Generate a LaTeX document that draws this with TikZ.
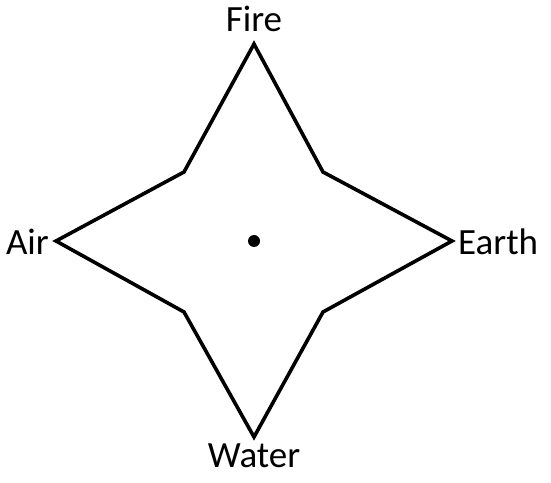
\documentclass[tikz,border=0pt]{standalone}
\usepackage{fontspec}
\setmainfont{Carlito}
\usepackage{tikz}
\usetikzlibrary{positioning}

\begin{document}
\begin{tikzpicture}[x=1pt,y=1pt,
    element/.style={font=\fontsize{37}{40}\selectfont,inner sep=0pt},
    starline/.style={draw=black,line width=3.6pt,line join=miter}]
    \useasboundingbox (0,0) rectangle (551,482);
    \coordinate (C) at (254,241);
    \coordinate (FireTip) at (254,438);
    \coordinate (EarthTip) at (452,241);
    \coordinate (WaterTip) at (254,45);
    \coordinate (AirTip) at (56,241);
    \coordinate (NE) at (323,310);
    \coordinate (SE) at (323,170);
    \coordinate (SW) at (184,170);
    \coordinate (NW) at (184,310);
    \draw[starline] (FireTip) -- (NE) -- (EarthTip) -- (SE) -- (WaterTip) -- (SW) -- (AirTip) -- (NW) -- cycle;
    \fill[black] (C) circle (6);
    \node[element,anchor=base] (Fire) at (254,450) {Fire};
    \node[element,anchor=base] (Water) at (254,15) {Water};
    \node[element,anchor=east] (Air) at ([xshift=-7pt,yshift=-1pt]AirTip) {Air};
    \node[element,anchor=west] (Earth) at ([xshift=6pt,yshift=-1pt]EarthTip) {Earth};
\end{tikzpicture}
\end{document}
